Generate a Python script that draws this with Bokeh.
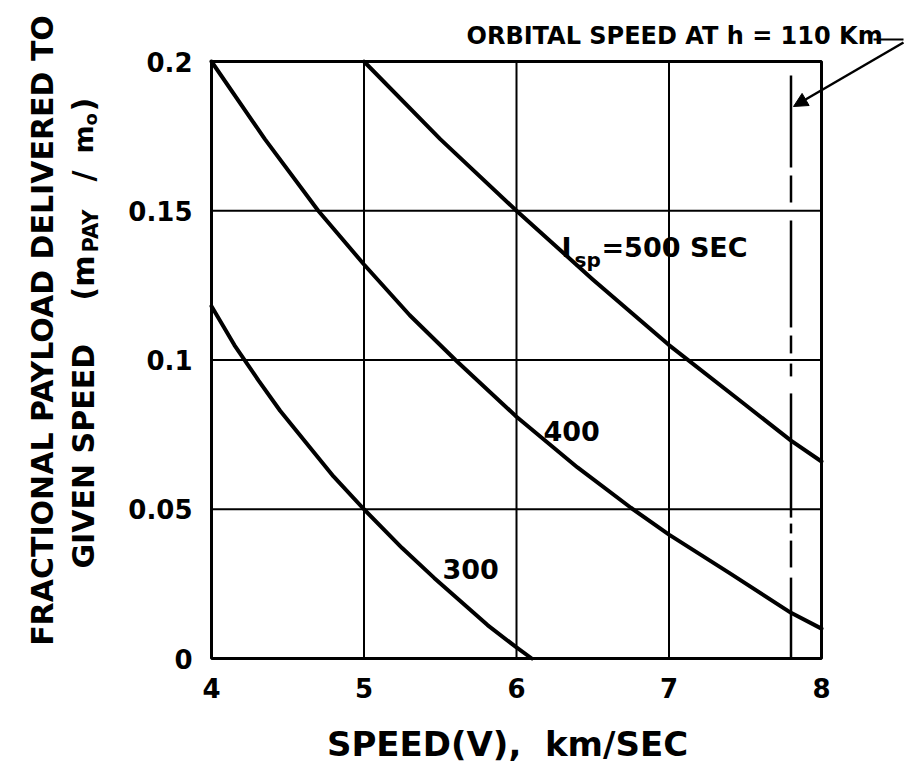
import math
from bokeh.plotting import figure
from bokeh.models import Label, Arrow, NormalHead, FixedTicker, LinearAxis, BoxAnnotation
from bokeh.embed import file_html
from bokeh.resources import INLINE

# ---- data ----
speed_500 = [5.0, 5.5, 6.0, 6.5, 7.0, 7.5, 7.8, 8.0]
frac_500 = [0.200, 0.174, 0.150, 0.127, 0.105, 0.085, 0.073, 0.066]

speed_400 = [4.0, 4.35, 4.7, 5.0, 5.3, 5.6, 6.0, 6.4, 6.75, 7.0, 7.4, 7.8, 8.0]
frac_400 = [0.200, 0.174, 0.150, 0.132, 0.115, 0.100, 0.081, 0.064, 0.0505, 0.0415, 0.0285, 0.0153, 0.010]

speed_300 = [4.0, 4.15, 4.31, 4.45, 4.8, 5.0, 5.25, 5.46, 5.81, 6.0, 6.1]
frac_300 = [0.118, 0.105, 0.093, 0.083, 0.061, 0.050, 0.037, 0.027, 0.0112, 0.0037, 0.0]

orbital_speed = 7.8
orbital_seg_top = [0.1953, 0.1618, 0.1467, 0.1082, 0.0988, 0.0888, 0.0452, 0.0395, 0.0271]
orbital_seg_bottom = [0.1645, 0.1528, 0.1109, 0.1022, 0.0945, 0.0472, 0.0419, 0.0305, 0.0]

x_ticks = [4, 5, 6, 7, 8]
y_ticks = [0, 0.05, 0.1, 0.15, 0.2]
y_tick_labels = ["0", "0.05", "0.1", "0.15", "0.2"]

FONT = "DejaVu Sans"

# page layout: chart box position in pixels of the 905x780 page
W, H = 905, 780
FL, FR, FT, FB = 211, 821, 61, 658
XPX = (FR - FL) / (x_ticks[-1] - x_ticks[0])
YPX = (FB - FT) / (y_ticks[-1] - y_ticks[0])
x_lo = x_ticks[0] - FL / XPX
x_hi = x_ticks[-1] + (W - FR) / XPX
y_lo = y_ticks[0] - (H - FB) / YPX
y_hi = y_ticks[-1] + FT / YPX


def dx(px):
    return x_lo + px / XPX


def dy(py):
    return y_hi - py / YPX


p = figure(width=W, height=H, x_range=(x_lo, x_hi), y_range=(y_lo, y_hi),
           x_axis_type=None, y_axis_type=None,
           output_backend="svg", toolbar_location=None, min_border=0)
p.background_fill_color = "white"
p.border_fill_color = "white"
p.outline_line_color = None

axis_style = dict(axis_line_color=None, major_tick_line_color=None, minor_tick_line_color=None,
                  major_tick_in=0, major_tick_out=0,
                  major_label_text_font=FONT, major_label_text_font_style="bold",
                  major_label_text_font_size="26px", major_label_text_color="black")
xax = LinearAxis(fixed_location=y_ticks[0], ticker=FixedTicker(ticks=x_ticks),
                 major_label_standoff=19, **axis_style)
yax = LinearAxis(fixed_location=x_ticks[0], ticker=FixedTicker(ticks=y_ticks),
                 major_label_standoff=19,
                 major_label_overrides={t: s for t, s in zip(y_ticks, y_tick_labels)},
                 **axis_style)
p.add_layout(xax, "below")
p.add_layout(yax, "left")

# grid lines inside the chart box, at the tick values
p.segment(x0=x_ticks[1:-1], y0=[y_ticks[0]] * 3, x1=x_ticks[1:-1], y1=[y_ticks[-1]] * 3,
          line_color="black", line_width=2)
p.segment(x0=[x_ticks[0]] * 3, y0=y_ticks[1:-1], x1=[x_ticks[-1]] * 3, y1=y_ticks[1:-1],
          line_color="black", line_width=2)

# chart box
p.add_layout(BoxAnnotation(left=x_ticks[0], right=x_ticks[-1], bottom=y_ticks[0], top=y_ticks[-1],
                           fill_alpha=0, line_color="black", line_width=3, line_alpha=1))

# curves
for xs, ys in ((speed_500, frac_500), (speed_400, frac_400), (speed_300, frac_300)):
    p.line(xs, ys, line_color="black", line_width=4, line_join="round", line_cap="round")

# orbital speed line (hand-drawn dashes)
p.segment(x0=[orbital_speed] * len(orbital_seg_top), y0=orbital_seg_top,
          x1=[orbital_speed] * len(orbital_seg_bottom), y1=orbital_seg_bottom,
          line_color="black", line_width=2.5)


def lab(x, y, text, size, align="left", baseline="alphabetic", angle=0.0):
    p.add_layout(Label(x=x, y=y, text=text, text_font=FONT, text_font_style="bold",
                       text_font_size=size, text_color="black", text_align=align,
                       text_baseline=baseline, angle=angle, angle_units="rad"))


# curve labels
lab(dx(543), dy(430), "400", "27px")
lab(dx(442), dy(568), "300", "27px")
lab(dx(561), dy(247), "I", "27px")
lab(dx(574), dy(259), "sp", "20px")
lab(dx(601), dy(247), "=500 SEC", "27px")

# annotation at top with arrow
lab(dx(466), dy(35), "ORBITAL SPEED AT h = 110 Km", "24px")
p.add_layout(Arrow(x_start=dx(873), y_start=dy(39), x_end=dx(903), y_end=dy(39),
                   start=None, end=None, line_color="black", line_width=2))
p.add_layout(Arrow(x_start=dx(903), y_start=dy(42), x_end=dx(793), y_end=dy(106),
                   end=NormalHead(size=14, fill_color="black", line_color="black"),
                   line_color="black", line_width=2.5))

# x axis title
lab(dx(507), dy(743), "SPEED(V),\u00a0 km/SEC", "34px", align="center", baseline="middle")

# y axis title (two rotated lines)
A = math.pi / 2
lab(dx(42), dy(330), "FRACTIONAL PAYLOAD DELIVERED TO", "30px",
    align="center", baseline="middle", angle=A)
lab(dx(83), dy(568), "GIVEN SPEED", "30px", angle=A)
lab(dx(83), dy(300), "(m", "30px", angle=A)
lab(dx(90), dy(252), "PAY", "21px", angle=A)
lab(dx(83), dy(181), "/", "30px", angle=A)
lab(dx(83), dy(153), "m", "27px", angle=A)
lab(dx(90), dy(125), "o", "18px", angle=A)
lab(dx(83), dy(111), ")", "30px", angle=A)

open("out.html", "w").write(file_html(p, INLINE))
